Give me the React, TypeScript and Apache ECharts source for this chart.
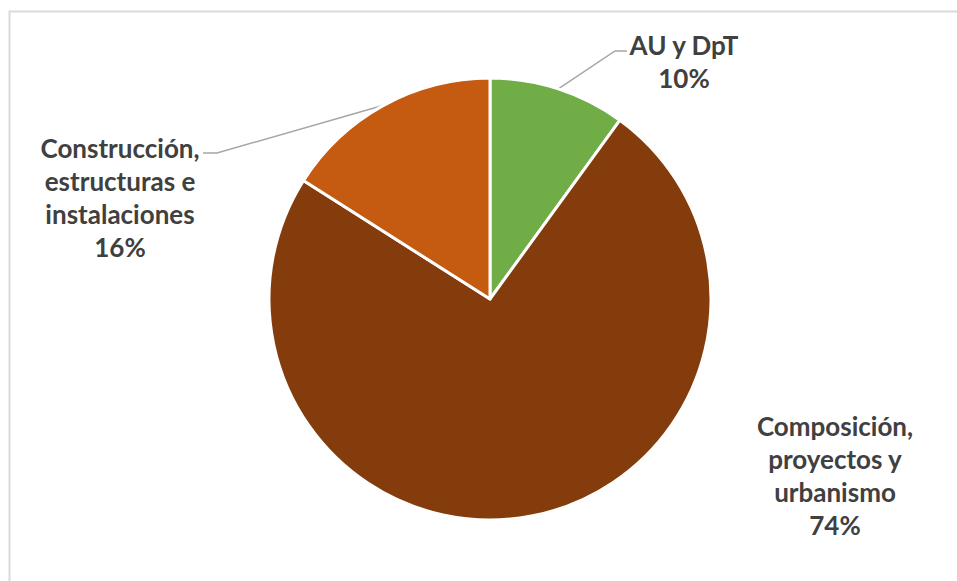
import React, { useEffect, useRef } from "react";
import * as echarts from "echarts";

const categories = ["AU y DpT", "Composición, proyectos y urbanismo", "Construcción, estructuras e instalaciones"];
const labelTexts = ["AU y DpT", "Composición,\nproyectos y\nurbanismo", "Construcción,\nestructuras e\ninstalaciones"];
const values = [10, 74, 16];
const colors = ["#70AD47", "#843C0C", "#C55A11"];

export default function App() {
  const ref = useRef<HTMLDivElement>(null);
  useEffect(() => {
    document.body.style.margin = "0";
    const chart = echarts.init(ref.current!, undefined, { renderer: "svg" });
    const labelPos: any[] = [
      { x: 684, y: 61, line: [[615, 51], [627, 51]] },
      { x: 835, y: 475, line: null },
      { x: 120, y: 197, line: [[217, 153], [203, 153]] },
    ];
    chart.setOption({
      animation: false,
      backgroundColor: "#ffffff",
      graphic: [
        {
          type: "rect",
          shape: { x: 9.5, y: 11.5, width: 1200, height: 1200 },
          style: { fill: "none", stroke: "#D9D9D9", lineWidth: 2 },
          silent: true,
        },
      ],
      series: [
        {
          type: "pie",
          center: [490, 299],
          radius: 221,
          startAngle: 90,
          clockwise: true,
          itemStyle: { borderColor: "#ffffff", borderWidth: 3 },
          label: {
            show: true,
            position: "outside",
            formatter: (p: any) => `${labelTexts[p.dataIndex]}\n${p.percent}%`,
            fontFamily: "Lato",
            fontWeight: "bold",
            fontSize: 26,
            lineHeight: 33,
            color: "#404040",
            align: "center",
          },
          labelLine: { show: true, lineStyle: { color: "#A6A6A6", width: 1.5 } },
          labelLayout: (params: any) => {
            const lp = labelPos[params.dataIndex];
            const res: any = { x: lp.x, y: lp.y, align: "center", verticalAlign: "middle" };
            if (lp.line && params.labelLinePoints) {
              res.labelLinePoints = [params.labelLinePoints[0], lp.line[0], lp.line[1]];
            }
            return res;
          },
          data: categories.map((name, i) => ({
            name,
            value: values[i],
            itemStyle: { color: colors[i] },
            labelLine: { show: i !== 1 },
          })),
        },
      ],
    });
    return () => chart.dispose();
  }, []);
  return <div ref={ref} style={{ width: 957, height: 581 }} />;
}
